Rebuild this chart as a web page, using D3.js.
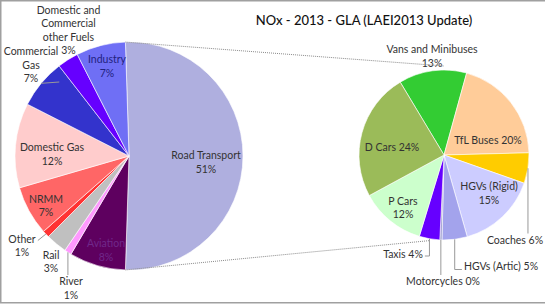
<!DOCTYPE html>
<html>
<head>
<meta charset="utf-8">
<script src="https://cdn.jsdelivr.net/npm/d3@7/dist/d3.min.js"></script>
<style>
  body { margin: 0; background: #fff; }
  svg text { font-family: Lato, "Open Sans", sans-serif; fill: #333; }
</style>
</head>
<body>
<svg id="chart"></svg>
<script>
// chart title
var chartTitle = "NOx - 2013 - GLA (LAEI2013 Update)";

// main pie: emission sources (% of total NOx)
var sources = ["Road Transport", "Aviation", "River", "Rail", "Other", "NRMM",
               "Domestic Gas", "Commercial Gas", "Domestic and Commercial other Fuels", "Industry"];
var sourceShares = [51, 8, 1, 3, 1, 7, 12, 7, 3, 7];
var sourceColors = ["#afafdf", "#5e005f", "#ff99ff", "#c0c0c0", "#ff3333", "#ff6666",
                    "#ffcccc", "#3333cc", "#6600ff", "#6f6ff5"];

// second pie: breakdown of road transport (% of road transport NOx)
var vehicles = ["Vans and Minibuses", "TfL Buses", "Coaches", "HGVs (Rigid)", "HGVs (Artic)",
                "Motorcycles", "Taxis", "P Cars", "D Cars"];
var vehicleShares = [12.9, 20.3, 5.8, 15.2, 4.8, 0.4, 3.9, 12.4, 24.3];
var vehicleColors = ["#33cc33", "#ffcc99", "#ffcc00", "#ccccff", "#a3a3ec",
                     "#9999cc", "#6600ff", "#ccffcc", "#9bbb59"];

// ---- layout ----
var width = 545, height = 305;
var bigPie = {cx: 129, cy: 156, r: 114};
var smallPie = {cx: 444, cy: 155, r: 85};
var lineH = 13.5;

// label placement, offset from the pie centre (x centre, first baseline)
// template: "|" = line break, {p} = percentage
var sourceLabels = [
  {dx: 77, dy: 3, t: "Road Transport|{p}"},
  {dx: -23, dy: 91, t: "Aviation|{p}", fill: "#70288a"},
  {dx: -58, dy: 129, t: "River|{p}", leader: "down"},
  {dx: -78, dy: 102.5, t: "Rail|{p}"},
  {dx: -107, dy: 86.5, t: "Other|{p}", leader: "right"},
  {dx: -83, dy: 46.5, t: "NRMM|{p}"},
  {dx: -77, dy: -5, t: "Domestic Gas|{p}"},
  {dx: -98, dy: -101, t: "Commercial|Gas|{p}", leader: "rightLow"},
  {dx: -60.5, dy: -142.5, t: "Domestic and|Commercial|other Fuels|{p}"},
  {dx: -22, dy: -93, t: "Industry|{p}", fill: "#22227e"}
];
var vehicleLabels = [
  {dx: -12, dy: -102, t: "Vans and Minibuses|{p}"},
  {dx: 44, dy: -11, t: "TfL Buses {p}"},
  {dx: 71, dy: 88.5, t: "Coaches {p}", leader: "down"},
  {dx: 45, dy: 35, t: "HGVs (Rigid)|{p}"},
  {dx: 57, dy: 114.5, t: "HGVs (Artic) {p}", leader: "elbowLeft"},
  {dx: -1, dy: 130, t: "Motorcycles {p}", leader: "down"},
  {dx: -41, dy: 103, t: "Taxis {p}", leader: "elbowRight"},
  {dx: -41, dy: 49.5, t: "P Cars|{p}"},
  {dx: -52, dy: -4, t: "D Cars {p}"}
];

var svg = d3.select("#chart")
    .attr("width", width)
    .attr("height", height);

// chart frame
svg.append("rect")
    .attr("x", 0.75).attr("y", 0.75)
    .attr("width", width + 5).attr("height", 302)
    .attr("fill", "none")
    .attr("stroke", "#a0a0a0")
    .attr("stroke-width", 1.5);

svg.append("text")
    .attr("x", 364).attr("y", 25)
    .attr("text-anchor", "middle")
    .style("font-size", "13px")
    .style("font-weight", "500")
    .style("fill", "#111")
    .text(chartTitle);

function drawPie(pos, names, values, colors, labels, startAngle) {
  var total = d3.sum(values);
  var pie = d3.pie().sort(null).value(function(d) { return d; })
      .startAngle(startAngle).endAngle(startAngle + 2 * Math.PI);
  var arcs = pie(values);
  var arc = d3.arc().innerRadius(0).outerRadius(pos.r);

  var g = svg.append("g")
      .attr("transform", "translate(" + pos.cx + "," + pos.cy + ")");

  g.selectAll("path.slice")
      .data(arcs)
      .enter()
      .append("path")
      .attr("class", "slice")
      .attr("d", arc)
      .attr("fill", function(d, i) { return colors[i]; })
      .attr("stroke", "#fff")
      .attr("stroke-width", 0.6);

  var leaderG = g.append("g");

  arcs.forEach(function(a, i) {
    var lab = labels[i];
    var pct = Math.round(values[i] / total * 100) + "%";
    var lines = lab.t.replace("{p}", pct).split("|");
    var t = g.append("text")
        .attr("text-anchor", "middle")
        .style("font-size", "10.5px");
    if (lab.fill) t.style("fill", lab.fill);
    lines.forEach(function(s, k) {
      t.append("tspan").attr("x", lab.dx).attr("y", lab.dy + k * lineH).text(s);
    });

    if (!lab.leader) return;
    var b = t.node().getBBox();
    var mid = (a.startAngle + a.endAngle) / 2;
    var e = d3.pointRadial(mid, pos.r);
    var pts;
    if (lab.leader == "down") {
      pts = [e, [e[0], b.y]];
    } else if (lab.leader == "right") {
      pts = [e, [b.x + b.width + 2, lab.dy - 2]];
    } else if (lab.leader == "rightLow") {
      pts = [e, [b.x + b.width + 1, b.y + b.height - 2]];
    } else if (lab.leader == "elbowLeft") {
      pts = [e, [e[0], lab.dy], [b.x - 2, lab.dy]];
    } else if (lab.leader == "elbowRight") {
      pts = [e, [e[0], lab.dy - 2], [b.x + b.width + 2, lab.dy - 2]];
    }
    leaderG.append("path")
        .attr("d", d3.line()(pts))
        .attr("fill", "none")
        .attr("stroke", "#999")
        .attr("stroke-width", 1);
  });

  return arcs;
}

// big pie: the road transport slice is centred on 3 o'clock
var rtShare = sourceShares[0] / d3.sum(sourceShares);
var bigArcs = drawPie(bigPie, sources, sourceShares, sourceColors, sourceLabels,
                      Math.PI / 2 - rtShare * Math.PI);
var smallArcs = drawPie(smallPie, vehicles, vehicleShares, vehicleColors, vehicleLabels,
                        -31 * Math.PI / 180);

// dotted connectors between the road transport slice and the second pie
var rt = bigArcs[0];
var conn = [
  [d3.pointRadial(rt.startAngle, bigPie.r), d3.pointRadial(0, smallPie.r + 4)],
  [d3.pointRadial(rt.endAngle, bigPie.r), d3.pointRadial(190 * Math.PI / 180, smallPie.r + 2)]
];
conn.forEach(function(c) {
  svg.append("line")
      .attr("x1", bigPie.cx + c[0][0]).attr("y1", bigPie.cy + c[0][1])
      .attr("x2", smallPie.cx + c[1][0]).attr("y2", smallPie.cy + c[1][1])
      .attr("stroke", "#8a8a8a")
      .attr("stroke-width", 1)
      .attr("stroke-dasharray", "1,1");
});
</script>
</body>
</html>
